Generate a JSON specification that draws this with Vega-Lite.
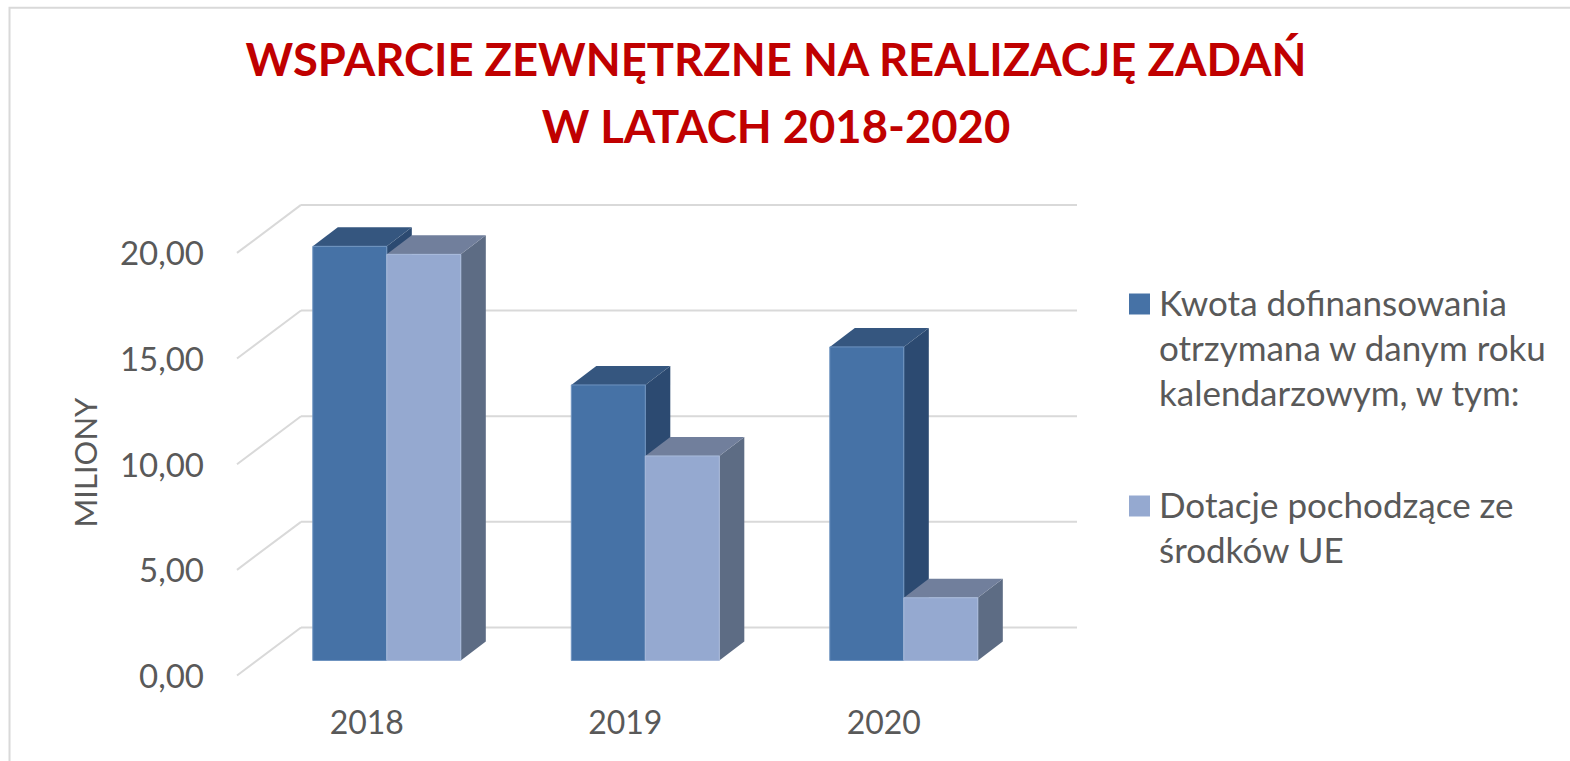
{
"$schema":"https://vega.github.io/schema/vega-lite/v6.json",
"autosize":{"type":"none"},
"width":840,"height":471,
"padding":{"left":237,"top":204.5,"right":493,"bottom":85.5},
"background":"#ffffff",
"config":{"view":{"stroke":null},"font":"Lato"},
"title":{"text":["WSPARCIE ZEWNĘTRZNE NA REALIZACJĘ ZADAŃ","W LATACH 2018-2020"],"anchor":"middle","dx":119,"offset":0,"dy":146,"fontSize":45.4,"fontWeight":"bold","color":"#c00000","font":"Lato","lineHeight":67},
"datasets":{
"bars":[
{"year":2018,"series":"Kwota dofinansowania otrzymana w danym roku kalendarzowym, w tym:","s":0,"value":19.6},
{"year":2018,"series":"Dotacje pochodzące ze środków UE","s":1,"value":19.22},
{"year":2019,"series":"Kwota dofinansowania otrzymana w danym roku kalendarzowym, w tym:","s":0,"value":13.04},
{"year":2019,"series":"Dotacje pochodzące ze środków UE","s":1,"value":9.68},
{"year":2020,"series":"Kwota dofinansowania otrzymana w danym roku kalendarzowym, w tym:","s":0,"value":14.84},
{"year":2020,"series":"Dotacje pochodzące ze środków UE","s":1,"value":2.97}
],
"ticks":[{"v":0},{"v":5},{"v":10},{"v":15},{"v":20}]
},
"layer":[
{"data":{"values":[{"a":-0.88,"b":5.5,"c":31.6,"d":-5}]},
 "mark":{"type":"rect","fill":null,"stroke":"#d9d9d9","strokeWidth":2,"clip":false},
 "encoding":{"x":{"field":"a","type":"quantitative","scale":{"domain":[0,3.2495],"nice":false,"zero":false},
   "axis":{"values":[0.5,1.5,2.5],"labelExpr":"2017.5+datum.value","title":null,"domain":false,"ticks":false,"grid":false,"labelFontSize":32,"labelColor":"#595959","labelPadding":33,"labelFont":"Lato"}},
  "x2":{"field":"b"},
  "y":{"field":"c","type":"quantitative","scale":{"domain":[0,22.29],"nice":false,"zero":false},
   "axis":{"values":[0,5,10,15,20],"labelExpr":"replace(format(datum.value,'.2f'),'.',',')","title":"MILIONY","titleFontSize":31,"titleFontWeight":"normal","titleColor":"#595959","titleFont":"Lato","titleX":-134,"titleY":257.5,"domain":false,"ticks":false,"grid":false,"labelFontSize":33,"labelColor":"#595959","labelPadding":33.5,"labelOffset":2,"labelFont":"Lato"}},
  "y2":{"field":"d"}}},
{"data":{"name":"ticks"},
 "transform":[{"calculate":"datum.v+2.2714","as":"vb"},{"calculate":"0","as":"x0"},{"calculate":"0.2476","as":"x1"}],
 "mark":{"type":"rule","color":"#d9d9d9","strokeWidth":2},
 "encoding":{"x":{"field":"x0","type":"quantitative"},"x2":{"field":"x1"},"y":{"field":"v","type":"quantitative"},"y2":{"field":"vb"}}},
{"data":{"name":"ticks"},
 "transform":[{"calculate":"datum.v+2.2714","as":"vb"},{"calculate":"0.2476","as":"x1"},{"calculate":"3.2495","as":"x2"}],
 "mark":{"type":"rule","color":"#d9d9d9","strokeWidth":2},
 "encoding":{"x":{"field":"x1","type":"quantitative"},"x2":{"field":"x2"},"y":{"field":"vb","type":"quantitative"}}},
{"data":{"name":"bars"},
 "transform":[{"filter":"datum.s==0"},{"calculate":"datum.year-2018+0.2932+0.2863*datum.s","as":"f0"},{"calculate":"datum.f0+0.2863","as":"f1"},{"calculate":"0.71+datum.value","as":"top"},{"calculate":"[0,1]","as":"c"},{"flatten":["c"]},{"calculate":"datum.f1+datum.c*0.0967","as":"px"},{"calculate":"0.71+datum.c*0.899","as":"lo"},{"calculate":"datum.top+datum.c*0.899","as":"hi"}],
 "mark":{"type":"area","color":"#2c4a71","clip":false},
 "encoding":{"x":{"field":"px","type":"quantitative"},"y":{"field":"lo","type":"quantitative"},"y2":{"field":"hi"},"detail":{"field":"year"}}},
{"data":{"name":"bars"},
 "transform":[{"filter":"datum.s==0"},{"calculate":"datum.year-2018+0.2932+0.2863*datum.s","as":"f0"},{"calculate":"datum.f0+0.2863","as":"f1"},{"calculate":"0.71+datum.value","as":"top"},{"calculate":"[0,1,2,3]","as":"c"},{"flatten":["c"]},{"calculate":"[datum.f0,datum.f0+0.0967,datum.f1,datum.f1+0.0967][datum.c]","as":"px"},{"calculate":"datum.c==3?datum.top+0.899:datum.top","as":"lo"},{"calculate":"datum.c==0?datum.top:datum.top+0.899","as":"hi"}],
 "mark":{"type":"area","color":"#35567f"},
 "encoding":{"x":{"field":"px","type":"quantitative"},"y":{"field":"lo","type":"quantitative"},"y2":{"field":"hi"},"detail":{"field":"year"}}},
{"data":{"name":"bars"},
 "transform":[{"filter":"datum.s==0"},{"calculate":"datum.year-2018+0.2932+0.2863*datum.s","as":"f0"},{"calculate":"datum.f0+0.2863","as":"f1"},{"calculate":"0.71+datum.value","as":"top"},{"calculate":"0.71","as":"base"}],
 "mark":{"type":"rect","stroke":"#6f94c0","strokeWidth":1},
 "encoding":{"x":{"field":"f0","type":"quantitative"},"x2":{"field":"f1"},"y":{"field":"base","type":"quantitative"},"y2":{"field":"top"},
  "color":{"field":"series","type":"nominal","scale":{"domain":["Kwota dofinansowania otrzymana w danym roku kalendarzowym, w tym:","Dotacje pochodzące ze środków UE"],"range":["#4672a6","#95a9d0"]},
  "legend":{"orient":"none","legendX":885,"legendY":82,"title":null,"symbolType":"square","symbolSize":441,"symbolStrokeWidth":0,"symbolOpacity":1,"labelFontSize":35,"labelFont":"Lato","labelColor":"#595959","labelLimit":500,"labelOffset":2,"rowPadding":75,"labelBaseline":"top",
   "labelExpr":"datum.label=='Dotacje pochodzące ze środków UE'?['Dotacje pochodzące ze','środków UE']:['Kwota dofinansowania','otrzymana w danym roku','kalendarzowym, w tym:']",
   "encoding":{"labels":{"lineHeight":{"value":45},"dy":{"value":-16}}}}}}},
{"data":{"name":"bars"},
 "transform":[{"filter":"datum.s==1"},{"calculate":"datum.year-2018+0.2932+0.2863*datum.s","as":"f0"},{"calculate":"datum.f0+0.2863","as":"f1"},{"calculate":"0.71+datum.value","as":"top"},{"calculate":"[0,1]","as":"c"},{"flatten":["c"]},{"calculate":"datum.f1+datum.c*0.0967","as":"px"},{"calculate":"0.71+datum.c*0.899","as":"lo"},{"calculate":"datum.top+datum.c*0.899","as":"hi"}],
 "mark":{"type":"area","color":"#5d6c84"},
 "encoding":{"x":{"field":"px","type":"quantitative"},"y":{"field":"lo","type":"quantitative"},"y2":{"field":"hi"},"detail":{"field":"year"}}},
{"data":{"name":"bars"},
 "transform":[{"filter":"datum.s==1"},{"calculate":"datum.year-2018+0.2932+0.2863*datum.s","as":"f0"},{"calculate":"datum.f0+0.2863","as":"f1"},{"calculate":"0.71+datum.value","as":"top"},{"calculate":"[0,1,2,3]","as":"c"},{"flatten":["c"]},{"calculate":"[datum.f0,datum.f0+0.0967,datum.f1,datum.f1+0.0967][datum.c]","as":"px"},{"calculate":"datum.c==3?datum.top+0.899:datum.top","as":"lo"},{"calculate":"datum.c==0?datum.top:datum.top+0.899","as":"hi"}],
 "mark":{"type":"area","color":"#717f9c"},
 "encoding":{"x":{"field":"px","type":"quantitative"},"y":{"field":"lo","type":"quantitative"},"y2":{"field":"hi"},"detail":{"field":"year"}}},
{"data":{"name":"bars"},
 "transform":[{"filter":"datum.s==1"},{"calculate":"datum.year-2018+0.2932+0.2863*datum.s","as":"f0"},{"calculate":"datum.f0+0.2863","as":"f1"},{"calculate":"0.71+datum.value","as":"top"},{"calculate":"0.71","as":"base"}],
 "mark":{"type":"rect","stroke":"#a9bbdb","strokeWidth":1},
 "encoding":{"x":{"field":"f0","type":"quantitative"},"x2":{"field":"f1"},"y":{"field":"base","type":"quantitative"},"y2":{"field":"top"},
  "color":{"field":"series","type":"nominal"}}}
]
}
